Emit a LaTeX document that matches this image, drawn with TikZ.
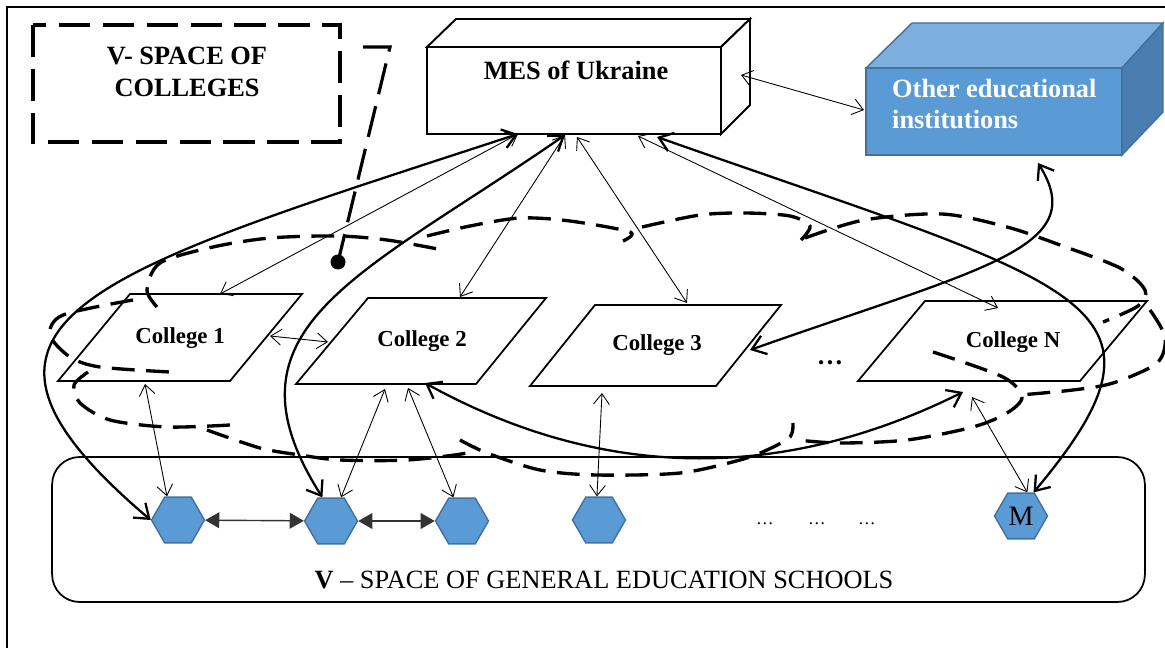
\documentclass[tikz,border=0pt]{standalone}
\usepackage{fontspec}
\setmainfont{Liberation Serif}
\usetikzlibrary{arrows.meta,shapes.geometric}
\definecolor{hexblue}{HTML}{5B9BD5}
\definecolor{hexedge}{HTML}{41719C}
\definecolor{boxtop}{HTML}{7DAFDE}
\definecolor{boxside}{HTML}{4A7EB0}
\tikzset{
  thinarr/.style={line width=0.5pt,{Straight Barb[length=6pt,width=9pt]}-{Straight Barb[length=6pt,width=9pt]}},
  thickarr/.style={line width=1.3pt,{Straight Barb[length=7.5pt,width=11pt]}-{Straight Barb[length=7.5pt,width=11pt]}},
  hexarr/.style={line width=0.8pt,draw=black!80,{Triangle[length=8pt,width=9pt]}-{Triangle[length=8pt,width=9pt]}},
  spaceline/.style={line width=1.9pt,dash pattern=on 13pt off 6.5pt},
  calloutline/.style={line width=1.8pt,dash pattern=on 18pt off 7pt},
  college/.style={line width=1pt},
  school/.style={regular polygon,regular polygon sides=6,minimum size=1.06cm,inner sep=0pt,fill=hexblue,draw=hexedge,line width=0.8pt},
  lbl/.style={font=\fontsize{15}{18}\selectfont\bfseries},
  clbl/.style={font=\fontsize{13}{15}\selectfont\bfseries}
}
\begin{document}
\begin{tikzpicture}[x=0.02cm,y=-0.02cm]
    \useasboundingbox (0,0) rectangle (1165,648);
    % frame
    \draw[line width=0.8pt] (7,648) -- (7,7) -- (1165,7);
    % callout
    \draw[calloutline] (33,25) rectangle (340,142);
    \node[lbl,align=center] (vcol) at (187,72) {V- SPACE OF\\COLLEGES};
    \coordinate (callstart) at (363,47);
    \coordinate (callbend) at (390,47);
    \coordinate (calldot) at (338,262);
    \draw[calloutline] (callstart) -- (callbend) -- (calldot);
    \fill (calldot) circle (0.15cm);
    % MES box
    \draw[line width=1.1pt,fill=white] (427,47) -- (456,19) -- (750,19) -- (721,47) -- cycle;
    \draw[line width=1.1pt,fill=white] (721,47) -- (750,19) -- (750,105) -- (721,134) -- cycle;
    \node[draw,line width=1.1pt,fill=white,minimum width=5.88cm,minimum height=1.74cm] (mes) at (574,90.5) {};
    \node[lbl] (meslbl) at (576,70) {MES of Ukraine};
    % other institutions
    \draw[draw=hexedge,line width=0.8pt,fill=boxtop] (866,68) -- (912,23) -- (1163,23) -- (1122,68) -- cycle;
    \draw[draw=hexedge,line width=0.8pt,fill=boxside] (1122,68) -- (1163,23) -- (1163,112) -- (1122,155) -- cycle;
    \node[draw=hexedge,line width=0.8pt,fill=hexblue,minimum width=5.12cm,minimum height=1.74cm] (oth) at (994,111.5) {};
    \node[lbl,text=white,align=left,anchor=west] (othlbl) at (886,104) {Other educational\\institutions};
    % colleges
    \draw[college] (130,294) -- (302,294) -- (230,381) -- (58,381) -- cycle;
    \node[clbl] (col1) at (180,338) {College 1};
    \draw[college] (368,298) -- (546,298) -- (476,384) -- (296,384) -- cycle;
    \node[clbl] (col2) at (422,341) {College 2};
    \draw[college] (595,305) -- (781,305) -- (716,386) -- (530,386) -- cycle;
    \node[clbl] (col3) at (657,345) {College 3};
    \draw[college] (925,301) -- (1147,301) -- (1080,381) -- (858,381) -- cycle;
    \node[clbl] (colN) at (1013,342) {College N};
    \node[lbl] (cdots) at (830,363) {…};
    % space of colleges
    \draw[spaceline] plot[smooth] coordinates {(133,300) (63,315) (50,335) (70,357) (100,367) (170,372)};
    \draw[spaceline] plot[smooth] coordinates {(157,307) (147,290) (160,263) (213,247) (270,238) (337,236) (387,240) (443,250)};
    \draw[spaceline] plot[smooth] coordinates {(427,236) (470,226) (520,218) (570,221) (630,232) (623,241)};
    \draw[spaceline] plot[smooth] coordinates {(642,227) (700,215) (746,213) (790,216) (810,226) (801,240)};
    \draw[spaceline] plot[smooth] coordinates {(805,238) (864,220) (942,214) (1007,227) (1060,245) (1120,268) (1145,290) (1138,306) (1103,322)};
    \draw[spaceline] plot[smooth] coordinates {(1150,310) (1165,337) (1157,363) (1113,383) (1073,390) (1020,395)};
    \draw[spaceline] plot[smooth] coordinates {(933,352) (1003,377) (1022,397) (1007,413) (973,427) (907,440) (840,443) (797,440)};
    \draw[spaceline] plot[smooth] coordinates {(88,372) (74,385) (80,403) (110,420) (167,427) (230,425)};
    \draw[spaceline] plot[smooth] coordinates {(207,430) (260,448) (300,455) (340,460) (407,460) (467,453) (474,446)};
    \draw[spaceline] plot[smooth] coordinates {(460,440) (487,453) (540,470) (597,475) (680,473) (740,460) (767,450) (790,437) (793,423)};
    % schools
    \node[draw,line width=1pt,rounded corners=0.55cm,minimum width=21.86cm,minimum height=2.9cm] (sch) at (598.5,529.5) {};
    \node[font=\fontsize{15}{18}\selectfont] (schlbl) at (604,580) {\textbf{V} – SPACE OF GENERAL EDUCATION SCHOOLS};
    \node[school] (h1) at (178,520) {};
    \node[school] (h2) at (331,521) {};
    \node[school] (h3) at (462,521) {};
    \node[school] (h4) at (599,520) {};
    \node[school,font=\fontsize{16}{16}\selectfont] (hm) at (1021,516) {M};
    \node[font=\fontsize{10}{10}\selectfont] (dotsa) at (765,524) {…};
    \node[font=\fontsize{10}{10}\selectfont] (dotsb) at (817,524) {…};
    \node[font=\fontsize{10}{10}\selectfont] (dotsc) at (867,524) {…};
    % connector ends
    \coordinate (mesA) at (518,134);
    \coordinate (mesB) at (565,135);
    \coordinate (mesC) at (577,137);
    \coordinate (mesD) at (638,136);
    \coordinate (mesE) at (657,137);
    \coordinate (mesR) at (741,75);
    \coordinate (othL) at (864,110);
    \coordinate (othB) at (1038,163);
    \coordinate (col1N) at (220,294);
    \coordinate (col1E) at (270,336);
    \coordinate (col1S) at (145,384);
    \coordinate (col2N) at (460,297);
    \coordinate (col2W) at (328,342);
    \coordinate (col2S) at (385,389);
    \coordinate (col2T) at (408,388);
    \coordinate (col2U) at (425,383);
    \coordinate (col3N) at (687,303);
    \coordinate (col3E) at (750,350);
    \coordinate (col3S) at (602,393);
    \coordinate (colNN) at (998,308);
    \coordinate (colNS) at (972,397);
    \coordinate (colNT) at (963,392);
    % thin links
    \draw[thinarr] (mesA) -- (col1N);
    \draw[thinarr] (mesB) -- (col2N);
    \draw[thinarr] (mesC) -- (col3N);
    \draw[thinarr] (mesD) -- (colNN);
    \draw[thinarr] (mesR) -- (othL);
    \draw[thinarr] (col1E) -- (col2W);
    \draw[thinarr] (col1S) -- (h1.115);
    \draw[thinarr] (col2S) -- (h2.67);
    \draw[thinarr] (col2T) -- (h3.110);
    \draw[thinarr] (col3S) -- (h4.95);
    \draw[thinarr] (colNS) -- (hm.75);
    % thick links
    \draw[thickarr] (mesA) .. controls (90,274) and (-85,320) .. (h1.west);
    \draw[thickarr] (mesB) .. controls (360,277) and (214,327) .. (h2.110);
    \draw[thickarr] (mesE) .. controls (1080,286) and (1195,300) .. (hm.62);
    \draw[thickarr] (col3E) .. controls (985,267) and (1091,248) .. (othB);
    \draw[thickarr] (col2U) .. controls (610,485) and (790,478) .. (colNT);
    % school links
    \draw[hexarr] (h1) -- (h2);
    \draw[hexarr] (h2) -- (h3);
\end{tikzpicture}
\end{document}
